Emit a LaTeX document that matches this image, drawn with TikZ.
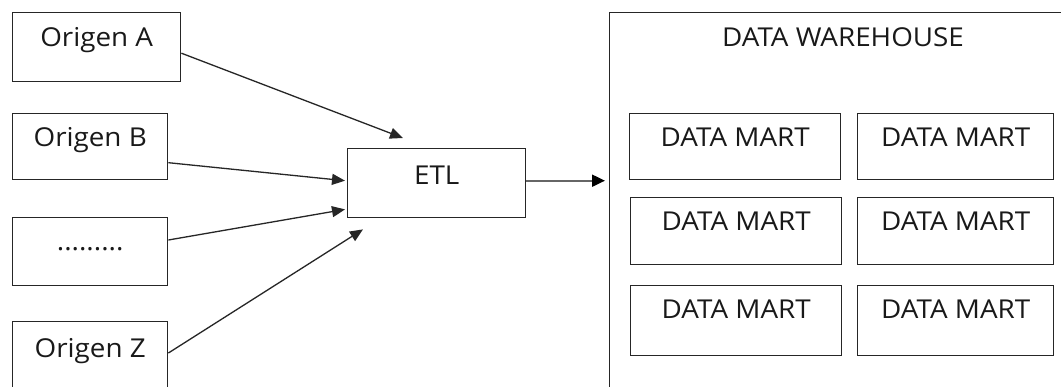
\documentclass[tikz,border=0pt]{standalone}
\usepackage{fontspec}
\setmainfont[FakeStretch=1.07]{Open Sans}
\usetikzlibrary{arrows.meta,calc}

\tikzset{
  box/.style={draw=black!85, line width=1.4pt, fill=white, inner sep=0pt, anchor=north west},
  lbl/.style={anchor=base, inner sep=0pt, text=black!90, font=\fontsize{26}{30}\selectfont},
  flow/.style={draw=black!85, line width=1.3pt, -{Triangle[length=13pt,width=11pt]}},
  todw/.style={draw=black!60, line width=2pt, -{Triangle[length=13pt,width=12pt,fill=black,color=black]}},
}

\begin{document}
\begin{tikzpicture}[x=1pt,y=1pt]
\clip (0,0) rectangle (1061,-387);
\fill[white] (0,0) rectangle (1061,-387);

% source systems
\node[box, minimum width=168pt, minimum height=69pt] (A) at (12,-12) {};
\node[box, minimum width=155pt, minimum height=66pt] (B) at (12,-113) {};
\node[box, minimum width=155pt, minimum height=68pt] (D) at (12,-217) {};
\node[box, minimum width=155pt, minimum height=90pt] (Z) at (12,-321) {};
\node[lbl] (tA) at ($(A.north)+(0,-35)$) {Origen A};
\node[lbl] (tB) at ($(B.north)+(0,-34)$) {Origen B};
\node[lbl] (tD) at ($(D.north)+(0,-34)$) {.........};
\node[lbl] (tZ) at ($(Z.north)+(0,-37)$) {Origen Z};

% ETL stage
\node[box, minimum width=178pt, minimum height=69pt] (ETL) at (347,-148) {};
\node[lbl] (tETL) at ($(ETL.north)+(0,-37)$) {ETL};

% warehouse and its marts
\node[box, minimum width=470pt, minimum height=400pt] (DW) at (609,-12) {};
\node[lbl] (tDW) at (843,-47) {DATA WAREHOUSE};

\node[box, minimum width=211pt, minimum height=66pt] (M11) at (629,-113) {};
\node[box, minimum width=196pt, minimum height=66pt] (M12) at (857,-113) {};
\node[box, minimum width=211pt, minimum height=67pt] (M21) at (630,-197) {};
\node[box, minimum width=196pt, minimum height=67pt] (M22) at (857,-197) {};
\node[box, minimum width=211pt, minimum height=70pt] (M31) at (630,-285) {};
\node[box, minimum width=196pt, minimum height=70pt] (M32) at (857,-285) {};
\foreach \m in {M11,M12,M21,M22,M31,M32}
  \node[lbl] (t\m) at ($(\m.north)+(0,-34)$) {DATA MART};

% arrow end points around the ETL box
\coordinate (eA) at ($(ETL.north west)+(56,10)$);
\coordinate (eB) at ($(ETL.west)+(-2,2.5)$);
\coordinate (eD) at ($(ETL.south west)+(-2,9)$);
\coordinate (eZ) at ($(ETL.south west)+(16,-11)$);
\coordinate (sW) at ($(ETL.east)+(0,2.5)$);
\coordinate (eW) at ($(DW.west |- sW)+(-4,0)$);

\draw[flow] ([yshift=-6pt]A.east) -- (eA);
\draw[flow] ([yshift=-16pt]B.east) -- (eB);
\draw[flow] ([yshift=-23pt]D.north east) -- (eD);
\draw[flow] ([yshift=-32pt]Z.north east) -- (eZ);
\draw[todw] (sW) -- (eW);
\end{tikzpicture}
\end{document}
